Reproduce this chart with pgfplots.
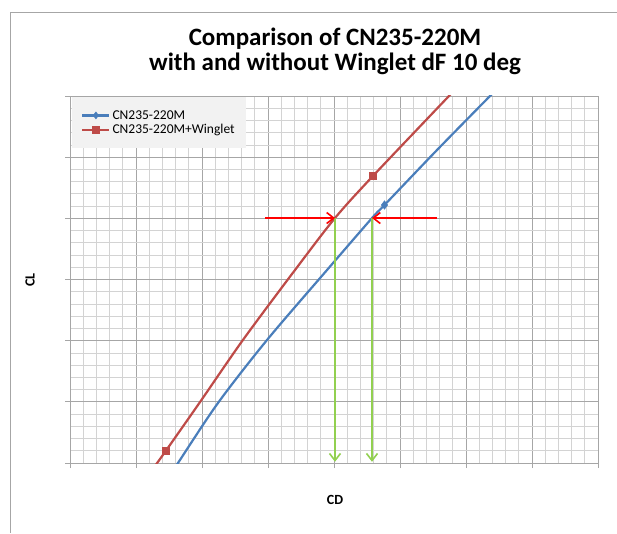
\documentclass[border=0pt]{standalone}
\usepackage{pgfplots}
\pgfplotsset{compat=1.18}
\usepackage{fontspec}
\setmainfont{Carlito}
\usetikzlibrary{arrows.meta}
\definecolor{xblue}{HTML}{4A7EBB}
\definecolor{xred}{HTML}{BE4B48}
\definecolor{xgreen}{HTML}{92D050}
\definecolor{majgrid}{HTML}{A6A6A6}
\definecolor{mingrid}{HTML}{D3D3D3}
\definecolor{legbg}{HTML}{F2F2F2}
\begin{document}
\begin{tikzpicture}
\useasboundingbox (0pt,0pt) rectangle (617pt,533pt);
\draw[gray!70, line width=0.8pt] (10pt,0pt) -- (10pt,521pt) -- (617pt,521pt);
\node[anchor=base, font=\bfseries\fontsize{25}{29}\selectfont] at (335pt,487pt) {Comparison of CN235-220M};
\node[anchor=base, font=\bfseries\fontsize{25}{29}\selectfont] at (335pt,462pt) {with and without Winglet dF 10 deg};
\node[rotate=90, font=\bfseries\fontsize{14}{16}\selectfont] at (30pt,253pt) {CL};
\node[font=\bfseries\fontsize{14}{16}\selectfont] at (335pt,33pt) {CD};
\begin{axis}[
  at={(70pt,70pt)}, anchor=south west,
  scale only axis, width=528pt, height=367pt,
  xmin=0, xmax=8, ymin=0, ymax=6,
  xtick={0,...,8}, ytick={0,...,6},
  xticklabels={}, yticklabels={},
  minor tick num=4,
  grid=both,
  major grid style={majgrid, line width=0.8pt},
  minor grid style={mingrid, line width=0.8pt},
  axis line style={majgrid, line width=0.8pt},
  tick pos=left, tick align=outside,
  major tick length=5pt, minor tick length=0pt,
  tick style={majgrid, line width=0.8pt},
  legend style={at={(0.004,0.997)}, anchor=north west, fill=legbg, draw=none,
    font=\fontsize{13.5}{16}\selectfont, row sep=0pt, inner xsep=9pt, inner ysep=11pt},
  legend cell align=left,
  legend image code/.code={\draw[mark repeat=2,mark phase=2,#1] plot coordinates {(0pt,0pt) (13.5pt,0pt) (27pt,0pt)};},
]
\addlegendimage{xblue, line width=2.2pt, mark=diamond*, mark size=3.5pt, mark options={solid, fill=xblue, line width=0.5pt}}
\addlegendentry{CN235-220M}
\addlegendimage{xred, line width=2.2pt, mark=square*, mark size=3.5pt, mark options={solid, fill=xred, line width=0.5pt}}
\addlegendentry{CN235-220M+Winglet}
\addplot[forget plot, xblue, line width=2.2pt, smooth, mark=diamond*, mark size=4.2pt, mark options={solid, fill=xblue, line width=0.5pt}, mark indices={6}]
  coordinates {(1.512,-0.2) (1.636,0) (2.242,0.981) (2.985,2.011) (3.894,3.155) (4.576,4.005) (4.765,4.218) (5.561,5.117) (6.348,5.983) (6.545,6.2)};
\addplot[forget plot, xred, line width=2.2pt, smooth, mark=square*, mark size=3.5pt, mark options={solid, fill=xred, line width=0.5pt}, mark indices={2,7}]
  coordinates {(1.185,-0.2) (1.32,0) (1.45,0.196) (1.96,0.981) (2.62,2.011) (3.409,3.155) (4.015,4.005) (4.59,4.692) (5.727,5.983) (5.918,6.2)};
\draw[xgreen, line width=1.6pt, -{Straight Barb[length=7pt,width=11pt]}] (4.015,4.005) -- (4.015,0.02);
\draw[xgreen, line width=1.6pt, -{Straight Barb[length=7pt,width=11pt]}] (4.576,4.005) -- (4.576,0.02);
\draw[red, line width=1.6pt, -{Straight Barb[length=7pt,width=11pt]}] (2.955,4.005) -- (4.015,4.005);
\draw[red, line width=1.6pt, -{Straight Barb[length=7pt,width=11pt]}] (5.561,4.005) -- (4.576,4.005);
\end{axis}
\end{tikzpicture}
\end{document}
